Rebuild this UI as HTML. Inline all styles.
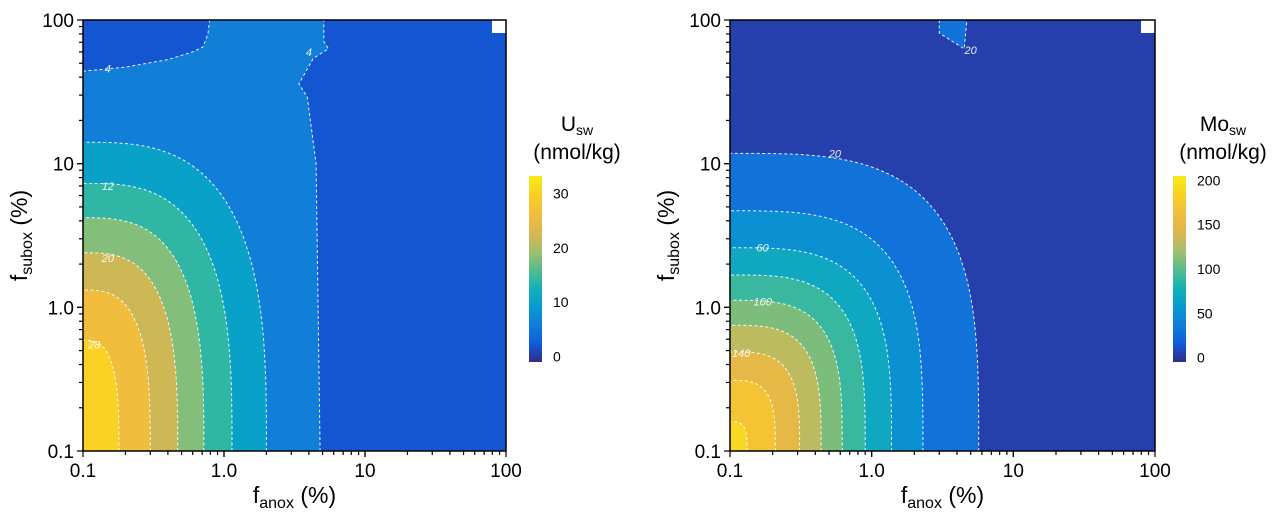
<!DOCTYPE html>
<html><head><meta charset="utf-8">
<style>
body{margin:0;background:#fff;width:1276px;height:513px;overflow:hidden;font-family:"Liberation Sans",sans-serif}
svg{display:block}
</style></head>
<body>
<svg id="fig" width="1276" height="513" viewBox="0 0 1276 513" xmlns="http://www.w3.org/2000/svg"></svg>
<script>
// ---------- Data: U panel ----------
const uLevels = [4, 8, 12, 16, 20, 24, 28];
const uBottomIntercepts = [4.8, 2.0, 1.14, 0.72, 0.47, 0.30, 0.18];   // f_anox where contour meets f_subox=0.1
const uLeftIntercepts = [100, 14.1, 7.3, 4.2, 2.4, 1.32, 0.59];       // f_subox where contour meets f_anox=0.1
const uVertical4X = [4.8, 4.5, 3.9, 3.4, 4.3, 5.5, 5.1, 5.1];
const uVertical4Y = [0.1, 10, 29, 36, 54, 63, 71, 100];
const uTop4X = [0.1, 0.2, 0.4, 0.6, 0.71, 0.77, 0.79];
const uTop4Y = [44, 47, 53, 60, 65, 80, 100];
const uColorTicks = [0, 10, 20, 30];
const uLabelText = ["4", "12", "20", "28", "4"];
const uLabelX = [0.15, 0.15, 0.15, 0.12, 4.0];
const uLabelY = [46, 7.0, 2.2, 0.55, 60];

// ---------- Data: Mo panel ----------
const moLevels = [20, 40, 60, 80, 100, 120, 140, 160, 180];
const moBottomIntercepts = [5.7, 2.3, 1.38, 0.90, 0.62, 0.44, 0.31, 0.209, 0.132];
const moLeftIntercepts = [11.8, 4.7, 2.6, 1.68, 1.12, 0.75, 0.49, 0.31, 0.16];
const moIslandX = [3.0, 3.0, 4.5, 4.7];
const moIslandY = [100, 81, 63, 100];
const moColorTicks = [0, 50, 100, 150, 200];
const moLabelText = ["20", "20", "60", "100", "140"];
const moLabelX = [0.55, 5.0, 0.17, 0.17, 0.12];
const moLabelY = [11.8, 62, 2.6, 1.1, 0.48];

const decadeTicks = [0.1, 1, 10, 100];
const decadeLabels = ["0.1", "1.0", "10", "100"];

const PAR = [[53,42,135],[15,92,221],[18,125,216],[7,156,207],[21,177,180],[89,189,140],[165,190,107],[222,182,78],[242,190,58],[249,208,36],[248,235,24]];
function parula(f){f=Math.max(0,Math.min(1,f));const s=f*10,i=Math.min(9,Math.floor(s)),t=s-i;
 const c=PAR[i].map((v,k)=>Math.round(v+(PAR[i+1][k]-v)*t));return `rgb(${c[0]},${c[1]},${c[2]})`;}

const NS="http://www.w3.org/2000/svg";
const svg=document.getElementById('fig');
function el(tag,attrs,parent){const e=document.createElementNS(NS,tag);for(const k in attrs)e.setAttribute(k,attrs[k]);(parent||svg).appendChild(e);return e;}

function panel(cfg){
 const g=el('g',{});
 
 
 const X0=cfg.x0,X1=cfg.x1,Y0=cfg.y0,Y1=cfg.y1;
 const sx=v=>X0+(Math.log10(v)+1)/3*(X1-X0);
 const sy=v=>Y1-(Math.log10(v)+1)/3*(Y1-Y0);
 const col=v=>parula((v-cfg.cmin)/(cfg.cmax-cfg.cmin));
 const clip=el('clipPath',{id:cfg.id+'clip'},g);el('rect',{x:X0,y:Y0,width:X1-X0,height:Y1-Y0},clip);
 const plot=el('g',{'clip-path':`url(#${cfg.id}clip)`},g);
 
 
 const L=cfg.levels;
 const bg=el('rect',{x:X0,y:Y0,width:X1-X0,height:Y1-Y0,fill:col(cfg.baseVal)},plot);
 
 
 const lines=[];
 cfg.extra(plot,sx,sy,col,lines);
 const P=cfg.p;
 for(let i=cfg.startIdx;i<L.length;i++){
  const A=Math.log10(cfg.bottom[i])+1,B=Math.log10(cfg.left[i])+1;
  let pts=[];
  for(let k=0;k<=60;k++){const t=k/60*Math.PI/2;
   const u=A*Math.pow(Math.cos(t),2/P),v=B*Math.pow(Math.sin(t),2/P);
   pts.push([X0+u/3*(X1-X0),Y1-v/3*(Y1-Y0)]);}
  const hi=i+1<L.length?L[i+1]:L[i]+(L[1]-L[0]);
  const ptsStr=pts.map(p=>p[0].toFixed(1)+','+p[1].toFixed(1)).join(' L');
  const r=el('path',{d:`M${X0},${Y1} L${ptsStr} Z`,fill:col((L[i]+hi)/2)},plot);
  
  
  lines.push('M'+ptsStr);
 }
 lines.forEach(d=>{const c=el('path',{d:d,fill:'none',stroke:'#fff','stroke-width':1,'stroke-dasharray':'3,2.5',opacity:0.9},plot);
  
  });
 cfg.lblT.forEach((t,i)=>{const tx=el('text',{x:sx(cfg.lblX[i]),y:sy(cfg.lblY[i])+4,fill:'#fff','font-size':11,'font-style':'italic','text-anchor':'middle',opacity:0.9},plot);tx.textContent=t;
  
  });
 const sq=el('rect',{x:X1-14,y:Y0,width:14,height:13,fill:'#fff'},plot);
 
 
 const fr=el('rect',{x:X0,y:Y0,width:X1-X0,height:Y1-Y0,fill:'none',stroke:'#000','stroke-width':1.5},g);
 
 
 const ax=el('g',{stroke:'#000','stroke-width':1.2},g);
 
 
 for(let d=0;d<3;d++)for(let m=1;m<=10;m++){const v=decadeTicks[d]*m;const len=(m===1||m===10)?6:4;
  el('line',{x1:sx(v),x2:sx(v),y1:Y1,y2:Y1+len},ax);el('line',{x1:X0,x2:X0-len,y1:sy(v),y2:sy(v)},ax);}
 decadeTicks.forEach((v,i)=>{
  const tx=el('text',{x:sx(v),y:Y1+26,'font-size':19,'text-anchor':'middle'},g);tx.textContent=decadeLabels[i];
  
  
  const ty=el('text',{x:X0-9,y:sy(v)+7,'font-size':19,'text-anchor':'end'},g);ty.textContent=decadeLabels[i];
  
  });
 const xt=el('text',{x:(X0+X1)/2,y:Y1+52,'font-size':23,'text-anchor':'middle'},g);
 xt.innerHTML='f<tspan font-size="16" dy="5">anox</tspan><tspan dy="-5"> (%)</tspan>';
 
 
 const yt=el('text',{x:0,y:0,'font-size':23,'text-anchor':'middle',transform:`translate(${X0-56},${(Y0+Y1)/2}) rotate(-90)`},g);
 yt.innerHTML='f<tspan font-size="16" dy="5">subox</tspan><tspan dy="-5"> (%)</tspan>';
 
 
 const cb=el('g',{},g);
 
 
 const grad=el('linearGradient',{id:cfg.id+'grad',x1:0,y1:1,x2:0,y2:0},cb);
 for(let k=0;k<=10;k++)el('stop',{offset:k/10,'stop-color':parula(k/10)},grad);
 el('rect',{x:cfg.cbx,y:176,width:13,height:186,fill:`url(#${cfg.id}grad)`},cb);
 const cy=v=>362-(v-cfg.cmin)/(cfg.cmax-cfg.cmin)*186;
 cfg.cticks.forEach(v=>{const t=el('text',{x:cfg.cbx+24,y:cy(v)+5,'font-size':14},cb);t.textContent=v;
  
  });
 const t1=el('text',{x:cfg.cbx+cfg.titleDx,y:131,'font-size':21,'text-anchor':'middle'},cb);
 t1.innerHTML=cfg.title+'<tspan font-size="14" dy="4">sw</tspan>';
 
 
 const t2=el('text',{x:cfg.cbx+cfg.titleDx,y:159,'font-size':21,'text-anchor':'middle'},cb);
 t2.textContent='(nmol/kg)';
 
 
}

function poly(xs,ys,sx,sy){return xs.map((x,i)=>sx(x).toFixed(1)+','+sy(ys[i]).toFixed(1));}

panel({id:'u',name:'u-panel',x0:83,x1:506,y0:20,y1:451,cmin:-1,cmax:33.2,p:3,
 levels:uLevels,bottom:uBottomIntercepts,left:uLeftIntercepts,startIdx:1,baseVal:6,
 cticks:uColorTicks,cbx:529,titleDx:48,title:'U',
 lblT:uLabelText,lblX:uLabelX,lblY:uLabelY,
 extra:(plot,sx,sy,col,lines)=>{
  const pv=poly(uVertical4X,uVertical4Y,sx,sy);
  const r1=el('path',{d:`M${pv.join(' L')} L506,20 L506,451 Z`,fill:col(2)},plot);
  
  
  const pt=poly(uTop4X,uTop4Y,sx,sy);
  const r2=el('path',{d:`M${pt.join(' L')} L83,20 Z`,fill:col(2)},plot);
  
  
  lines.push('M'+pv.join(' L'));lines.push('M'+pt.join(' L'));
 }});

panel({id:'mo',name:'mo-panel',x0:730,x1:1155,y0:20,y1:451,cmin:-5,cmax:205,p:3.4,
 levels:moLevels,bottom:moBottomIntercepts,left:moLeftIntercepts,startIdx:0,baseVal:4,
 cticks:moColorTicks,cbx:1173,titleDx:50,title:'Mo',
 lblT:moLabelText,lblX:moLabelX,lblY:moLabelY,
 extra:(plot,sx,sy,col,lines)=>{
  const pi=poly(moIslandX,moIslandY,sx,sy);
  const r=el('path',{d:`M${pi.join(' L')} Z`,fill:col(30)},plot);
  
  
  lines.push('M'+pi.join(' L'));
 }});
</script>
</body></html>
